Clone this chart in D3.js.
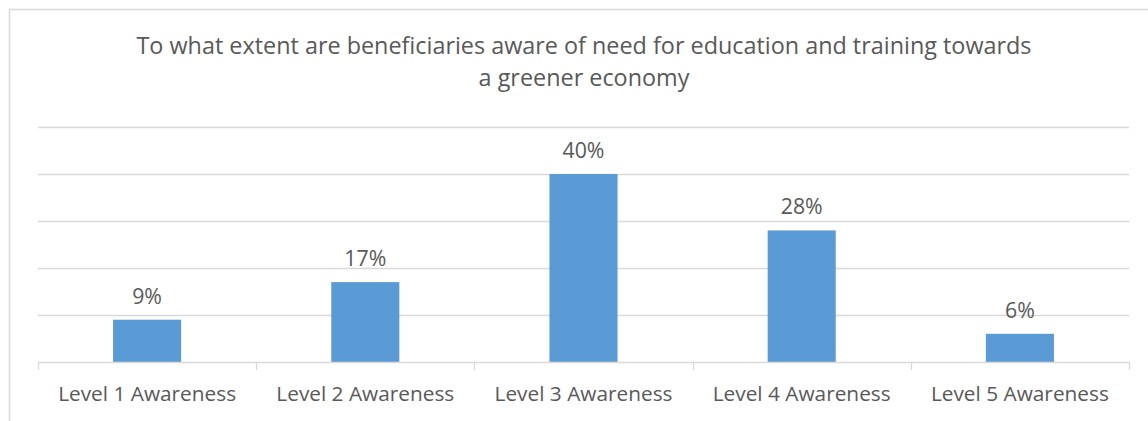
<!DOCTYPE html>
<html>
<head>
<meta charset="utf-8">
<script src="https://cdn.jsdelivr.net/npm/d3@7"></script>
<style>
  html, body { margin: 0; padding: 0; background: #fff; }
  svg { display: block; }
  text { font-family: "Open Sans", "Noto Sans", sans-serif; fill: #595959; }
</style>
</head>
<body>
<svg id="chart" width="1148" height="421"></svg>
<script>
// Survey results: share of beneficiaries at each awareness level
const categories = ["Level 1 Awareness", "Level 2 Awareness", "Level 3 Awareness", "Level 4 Awareness", "Level 5 Awareness"];
const values = [9, 17, 40, 28, 6];
const yTicks = [0, 10, 20, 30, 40, 50];
const titleLines = [
  "To what extent are beneficiaries aware of need for education and training towards",
  "a greener economy"
];

const svg = d3.select("#chart");
const W = 1148, H = 421;
const plot = { left: 38, right: 1129, top: 127, bottom: 362 };

// chart frame (left and top edges visible)
svg.append("rect")
  .attr("x", 9.5).attr("y", 9.5)
  .attr("width", W + 20).attr("height", H + 20)
  .attr("fill", "none").attr("stroke", "#d9d9d9").attr("stroke-width", 1.5);

const x = d3.scaleBand()
  .domain(categories)
  .range([plot.left, plot.right])
  .paddingInner(0.688)
  .paddingOuter(0.344);

const y = d3.scaleLinear()
  .domain([0, 50])
  .range([plot.bottom, plot.top]);

// horizontal gridlines
svg.append("g")
  .selectAll("line")
  .data(yTicks.filter(d => d > 0))
  .join("line")
  .attr("x1", plot.left).attr("x2", plot.right)
  .attr("y1", d => Math.round(y(d)) + 0.5).attr("y2", d => Math.round(y(d)) + 0.5)
  .attr("stroke", "#d9d9d9").attr("stroke-width", 1.3);

// bars
svg.append("g")
  .selectAll("rect")
  .data(values)
  .join("rect")
  .attr("x", (d, i) => x(categories[i]))
  .attr("width", x.bandwidth())
  .attr("y", d => y(d))
  .attr("height", d => y(0) - y(d))
  .attr("fill", "#5b9bd5");

// category axis with ticks between categories
const step = x.step();
const boundaries = d3.range(categories.length + 1).map(i => plot.left + i * step);
const axisG = svg.append("g");
axisG.append("line")
  .attr("x1", plot.left).attr("x2", plot.right)
  .attr("y1", y(0) + 0.5).attr("y2", y(0) + 0.5)
  .attr("stroke", "#d9d9d9").attr("stroke-width", 1.3);
axisG.selectAll("line.tick")
  .data(boundaries)
  .join("line")
  .attr("class", "tick")
  .attr("x1", d => Math.round(d) + 0.5).attr("x2", d => Math.round(d) + 0.5)
  .attr("y1", y(0)).attr("y2", y(0) + 8)
  .attr("stroke", "#d9d9d9").attr("stroke-width", 1.3);

function fitSize(sel, targetWidth, base) {
  sel.style("font-size", base + "px");
  const w = sel.node().getComputedTextLength();
  const s = base * targetWidth / w;
  sel.style("font-size", s.toFixed(2) + "px");
  return s;
}

// category labels
const catLabels = axisG.selectAll("text.cat")
  .data(categories)
  .join("text")
  .attr("class", "cat")
  .attr("x", d => x(d) + x.bandwidth() / 2)
  .attr("y", 401)
  .attr("text-anchor", "middle")
  .text(d => d);
const catSize = fitSize(catLabels.filter((d, i) => i === 0), 178, 18);
catLabels.style("font-size", catSize.toFixed(2) + "px");

// value labels
const valLabels = svg.append("g")
  .selectAll("text")
  .data(values)
  .join("text")
  .attr("x", (d, i) => x(categories[i]) + x.bandwidth() / 2)
  .attr("y", d => y(d) - 16)
  .attr("text-anchor", "middle")
  .text(d => d + "%");
const valSize = fitSize(valLabels.filter((d, i) => i === 2), 42, 18);
valLabels.style("font-size", valSize.toFixed(2) + "px");

// title
const title = svg.append("g");
const t1 = title.append("text")
  .attr("x", 584).attr("y", 54)
  .attr("text-anchor", "middle")
  .text(titleLines[0]);
const tSize = fitSize(t1, 895, 20);
title.append("text")
  .attr("x", 584).attr("y", 86)
  .attr("text-anchor", "middle")
  .style("font-size", tSize.toFixed(2) + "px")
  .text(titleLines[1]);
</script>
</body>
</html>
